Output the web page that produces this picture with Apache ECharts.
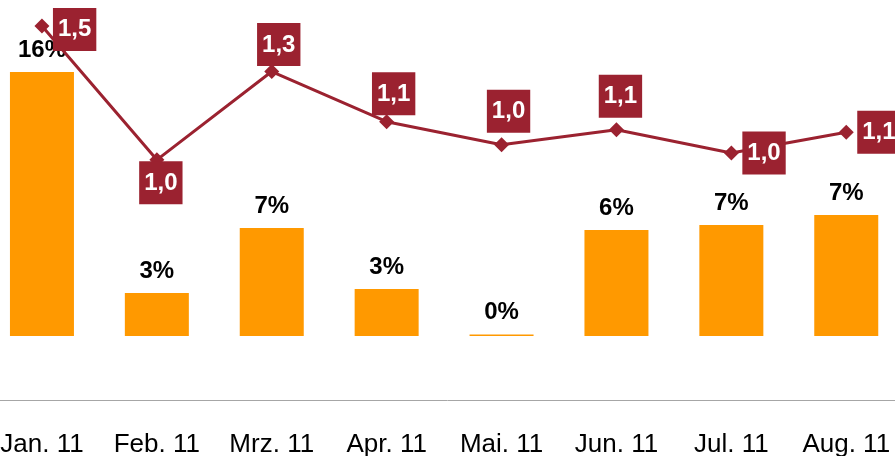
<!DOCTYPE html>
<html>
<head>
<meta charset="utf-8">
<script src="https://cdn.jsdelivr.net/npm/echarts@6/dist/echarts.min.js"></script>
<style>
html,body{margin:0;padding:0;background:#fff;}
#chart{width:895px;height:456px;}
</style>
</head>
<body>
<div id="chart"></div>
<script>
// ---- data ----
var categories = ['Jan. 11','Feb. 11','Mrz. 11','Apr. 11','Mai. 11','Jun. 11','Jul. 11','Aug. 11'];
var barValues = [16.05, 2.61, 6.57, 2.86, 0.09, 6.44, 6.75, 7.36];
var lineValues = [1.520, 0.976, 1.335, 1.131, 1.037, 1.098, 1.004, 1.088];

// ---- label styling (not data) ----
var linePos = ['right','bottom','top','top','top','top','right','right'];
var lineDist = [3.5, -6, -2, -1, 4.5, 4.5, 3.5, 3.5];
var lineOff = [[0,3.5],[4,0],[7,0],[7,0],[7,0],[4,0],[0,0],[0,0]];

var FONT = "'Liberation Sans', Arial, sans-serif";
var RED = '#9B2230';
var ORANGE = '#FF9900';

var lineData = lineValues.map(function(v, i){
  return {
    value: v,
    label: { position: linePos[i], distance: lineDist[i], offset: lineOff[i] }
  };
});

var chart = echarts.init(document.getElementById('chart'), null, {renderer:'canvas'});
chart.setOption({
  animation: false,
  backgroundColor: '#ffffff',
  grid: { left: -15.5, right: -8.7, top: 10, bottom: 56, containLabel: false, outerBoundsMode: 'none' },
  xAxis: {
    type: 'category',
    data: categories,
    axisLine: { show: true, onZero: false, lineStyle: { color: '#A6A6A6', width: 1 } },
    axisTick: { show: false },
    axisLabel: { interval: 0, color: '#000', fontSize: 26, fontFamily: FONT, margin: 32 },
    splitLine: { show: false }
  },
  yAxis: [
    { type: 'value', min: -3.89, max: 19.82, show: false, splitLine: { show: false } },
    { type: 'value', min: 0, max: 1.585, show: false, splitLine: { show: false } }
  ],
  series: [
    {
      type: 'bar',
      data: barValues,
      yAxisIndex: 0,
      barWidth: 64,
      itemStyle: { color: ORANGE },
      label: {
        show: true, position: 'top', distance: 10,
        color: '#000', fontSize: 24, fontWeight: 'bold', fontFamily: FONT,
        formatter: function(p){ return Math.round(p.value) + '%'; }
      },
      z: 1
    },
    {
      type: 'line',
      data: lineData,
      yAxisIndex: 1,
      symbol: 'diamond',
      symbolSize: 15,
      lineStyle: { color: RED, width: 3 },
      itemStyle: { color: RED },
      label: {
        show: true,
        color: '#fff', fontSize: 24, fontWeight: 'bold', fontFamily: FONT,
        backgroundColor: RED, padding: [10,5,9,5], lineHeight: 24,
        formatter: function(p){ return p.value.toFixed(1).replace('.', ','); }
      },
      z: 3
    }
  ]
});
</script>
</body>
</html>
